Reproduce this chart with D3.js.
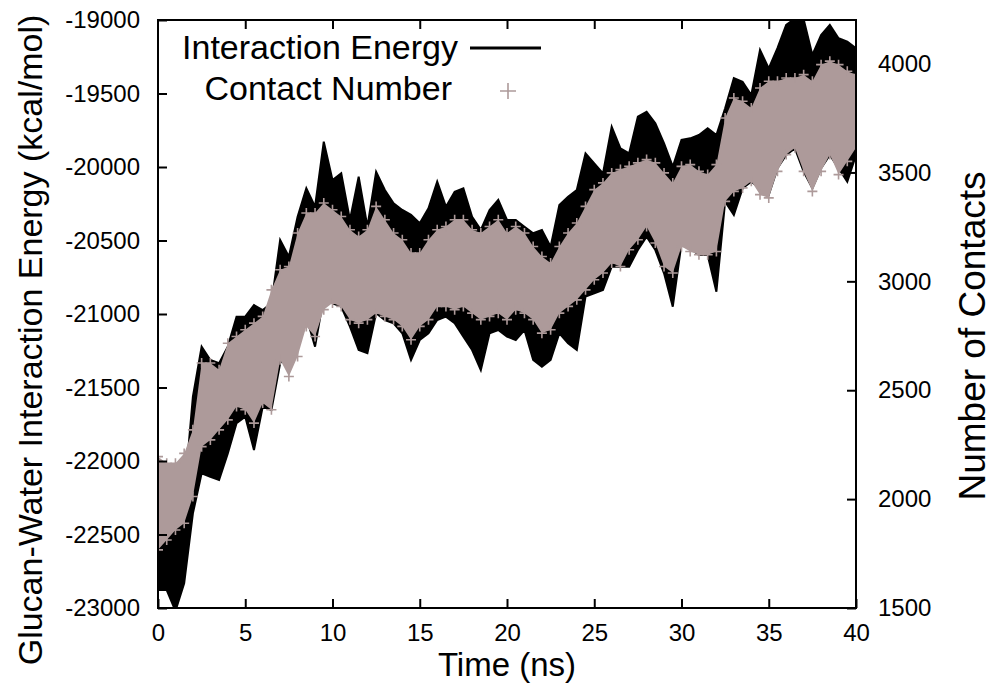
<!DOCTYPE html>
<html>
<head>
<meta charset="utf-8">
<script src="https://cdn.jsdelivr.net/npm/d3@7"></script>
<style>
  body { margin: 0; background: #fff; }
  svg text { font-family: "Liberation Sans", Arial, Helvetica, sans-serif; fill: #000; }
</style>
</head>
<body>
<svg id="chart" width="995" height="696"></svg>
<script>
// Sampling interval of the series below (ns)
const timeStep = 0.5;

// Glucan-water interaction energy (kcal/mol): upper and lower extent within each 0.5 ns window
const energyHigh = [
  -22401, -22356, -22333, -22243, -21562, -21222, -21313, -21335, -21222, -21018,
  -21018, -20939, -20973, -20927, -20497, -20610, -20338, -20145, -20270, -19828,
  -20088, -20043, -20360, -20066, -20406, -20032, -20156, -20247, -20292, -20326,
  -20383, -20281, -20100, -20270, -20168, -20145, -20338, -20428, -20292, -20224,
  -20360, -20360, -20406, -20451, -20428, -20542, -20258, -20202, -20156, -19907,
  -19975, -20043, -19726, -19873, -19907, -19658, -19624, -19703, -19839, -19998,
  -19816, -19805, -19782, -19737, -19782, -19601, -19396, -19420, -19510, -19204,
  -19329, -19192, -19034, -18990, -18995, -19238, -19102, -19034, -19124, -19147,
  -19192
];
const energyLow = [
  -22878, -22878, -23020, -22832, -22356, -22084, -22107, -22129, -21948, -21743,
  -21699, -21925, -21631, -21653, -21335, -21245, -21154, -21018, -21222, -20882,
  -20927, -20950, -21086, -21245, -21267, -20995, -21041, -21063, -21131, -21313,
  -21177, -21131, -21041, -21018, -21063, -21154, -21245, -21381, -21131, -21109,
  -21154, -21177, -21109, -21313, -21358, -21313, -21131, -21199, -21245, -20882,
  -20859, -20837, -20678, -20678, -20678, -20565, -20474, -20565, -20723, -20950,
  -20519, -20553, -20599, -20599, -20848, -20236, -20326, -20145, -20100, -20145,
  -20190, -20009, -19918, -19873, -20032, -20145, -20009, -19918, -20009, -20100,
  -19918
];

// Number of glucan-water contacts: upper and lower extent within each 0.5 ns window
const contactHigh = [
  2195, 2165, 2165, 2210, 2318, 2625, 2625, 2594, 2716, 2747,
  2778, 2808, 2839, 2961, 3053, 3068, 3222, 3314, 3314, 3360,
  3329, 3298, 3237, 3206, 3237, 3344, 3283, 3222, 3191, 3130,
  3130, 3191, 3237, 3252, 3283, 3283, 3237, 3222, 3252, 3283,
  3222, 3252, 3222, 3160, 3114, 3084, 3160, 3222, 3268, 3344,
  3421, 3452, 3498, 3513, 3528, 3544, 3559, 3544, 3498, 3452,
  3528, 3536, 3505, 3490, 3536, 3750, 3842, 3827, 3796, 3888,
  3919, 3919, 3934, 3934, 3949, 3919, 3995, 4011, 3995, 3965,
  3949
];
const contactLow = [
  1767, 1812, 1858, 1889, 2012, 2241, 2272, 2318, 2364, 2425,
  2410, 2349, 2441, 2410, 2640, 2563, 2655, 2793, 2747, 2870,
  2900, 2885, 2824, 2808, 2824, 2854, 2839, 2824, 2793, 2732,
  2793, 2824, 2885, 2885, 2870, 2885, 2854, 2824, 2839, 2854,
  2824, 2870, 2854, 2824, 2762, 2778, 2854, 2885, 2915, 2961,
  3007, 3038, 3084, 3068, 3145, 3191, 3252, 3176, 3068, 3038,
  3160, 3137, 3122, 3122, 3137, 3367, 3413, 3429, 3459, 3398,
  3383, 3505, 3582, 3613, 3505, 3413, 3505, 3582, 3490, 3551,
  3613
];

// Axis ticks
const timeTicks = [0, 5, 10, 15, 20, 25, 30, 35, 40];
const energyTicks = [-23000, -22500, -22000, -21500, -21000, -20500, -20000, -19500, -19000];
const contactTicks = [1500, 2000, 2500, 3000, 3500, 4000];

const times = energyHigh.map((_, i) => i * timeStep);
const idx = d3.range(times.length);

const svg = d3.select("#chart");
const plot = { left: 158, right: 856, top: 20, bottom: 608 };
const pink = "#ad9a9a";

const x = d3.scaleLinear().domain([0, 40]).range([plot.left, plot.right]);
const yE = d3.scaleLinear().domain([-23000, -19000]).range([plot.bottom, plot.top]);
const yC = d3.scaleLinear().domain([1500, 4200]).range([plot.bottom, plot.top]);

svg.append("defs").append("clipPath").attr("id", "plotClip")
  .append("rect")
  .attr("x", plot.left).attr("y", plot.top)
  .attr("width", plot.right - plot.left).attr("height", plot.bottom - plot.top);

const data = svg.append("g").attr("clip-path", "url(#plotClip)");

// Interaction energy trace (black)
const energyArea = d3.area()
  .x(i => x(times[i]))
  .y0(i => yE(energyLow[i]))
  .y1(i => yE(energyHigh[i]));
data.append("path")
  .attr("d", energyArea(idx))
  .attr("fill", "#000")
  .attr("stroke", "#000")
  .attr("stroke-width", 2)
  .attr("stroke-linejoin", "miter");

// Contact number band (pink "+" points)
const contactArea = d3.area()
  .x(i => x(times[i]))
  .y0(i => yC(contactLow[i]))
  .y1(i => yC(contactHigh[i]));
data.append("path")
  .attr("d", contactArea(idx))
  .attr("fill", pink);

const plusPath = s => `M${-s},0H${s}M0,${-s}V${s}`;
const plusPts = idx.flatMap(i => [[times[i], contactHigh[i]], [times[i], contactLow[i]]]);
data.append("g").selectAll("path")
  .data(plusPts)
  .join("path")
  .attr("transform", d => `translate(${x(d[0])},${yC(d[1])})`)
  .attr("d", plusPath(5))
  .attr("stroke", pink)
  .attr("stroke-width", 1.6);

// Axes, ticks pointing inward
function styleAxis(g, size) {
  g.select(".domain").remove();
  g.selectAll("line").attr("stroke", "#000").attr("stroke-width", 2);
  g.selectAll("text").attr("font-size", size).attr("font-family", null).attr("fill", "#000");
}
const tickFont = 24;
svg.append("g").attr("transform", `translate(${plot.left},0)`)
  .call(d3.axisLeft(yE).tickValues(energyTicks).tickSize(-9).tickPadding(18).tickFormat(d => String(d)))
  .call(g => styleAxis(g, tickFont));
svg.append("g").attr("transform", `translate(${plot.right},0)`)
  .call(d3.axisRight(yC).tickValues(contactTicks).tickSize(-9).tickPadding(22).tickFormat(d => String(d)))
  .call(g => styleAxis(g, tickFont));
svg.append("g").attr("transform", `translate(0,${plot.bottom})`)
  .call(d3.axisBottom(x).tickValues(timeTicks).tickSize(-9).tickPadding(16).tickFormat(d => String(d)))
  .call(g => styleAxis(g, tickFont));
svg.append("g").attr("transform", `translate(0,${plot.top})`)
  .call(d3.axisTop(x).tickValues(timeTicks.slice(1, -1)).tickSize(-9).tickFormat(""))
  .call(g => styleAxis(g, tickFont));

// Frame
svg.append("rect")
  .attr("x", plot.left).attr("y", plot.top)
  .attr("width", plot.right - plot.left).attr("height", plot.bottom - plot.top)
  .attr("fill", "none").attr("stroke", "#000").attr("stroke-width", 2);

// Axis titles
svg.append("text")
  .attr("transform", `translate(42,340) rotate(-90)`)
  .attr("text-anchor", "middle").attr("font-size", 34)
  .text("Glucan-Water Interaction Energy (kcal/mol)");
svg.append("text")
  .attr("transform", `translate(985,336) rotate(-90)`)
  .attr("text-anchor", "middle").attr("font-size", 37)
  .text("Number of Contacts");
svg.append("text")
  .attr("x", (plot.left + plot.right) / 2).attr("y", 676)
  .attr("text-anchor", "middle").attr("font-size", 33)
  .text("Time (ns)");

// Legend
const legend = svg.append("g");
legend.append("text").attr("x", 458).attr("y", 59).attr("text-anchor", "end")
  .attr("font-size", 34).text("Interaction Energy");
legend.append("line").attr("x1", 470).attr("x2", 541).attr("y1", 48).attr("y2", 48)
  .attr("stroke", "#000").attr("stroke-width", 3);
legend.append("text").attr("x", 452).attr("y", 100).attr("text-anchor", "end")
  .attr("font-size", 34).text("Contact Number");
legend.append("path").attr("transform", "translate(508,91)").attr("d", plusPath(8))
  .attr("stroke", pink).attr("stroke-width", 1.6);
</script>
</body>
</html>
